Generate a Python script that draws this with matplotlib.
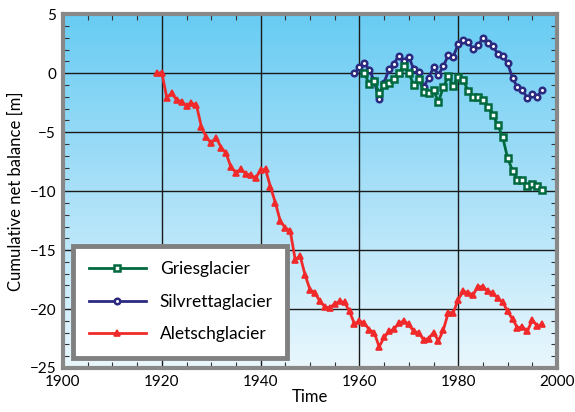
import numpy as np
import matplotlib
matplotlib.use("Agg")
import matplotlib.pyplot as plt
from matplotlib.colors import LinearSegmentedColormap
from matplotlib.ticker import MultipleLocator

plt.rcParams['font.family'] = ['Lato', 'DejaVu Sans']

# Cumulative net balance series [m]
aletsch_years = list(range(1919, 1998))
aletsch = [0.0, 0.05, -2.07, -1.7, -2.26, -2.4, -2.77, -2.54, -2.69, -4.52,
           -5.43, -5.93, -5.45, -6.3, -6.78, -7.97, -8.42, -8.14, -8.53, -8.65,
           -8.88, -8.22, -8.15, -9.65, -11.0, -12.57, -13.1, -13.4, -15.8, -15.5,
           -17.1, -18.36, -18.6, -19.35, -19.8, -19.9, -19.55, -19.35, -19.44, -20.2,
           -21.25, -21.0, -21.2, -21.75, -22.0, -23.2, -22.4, -21.9, -21.7, -21.2,
           -21.0, -21.3, -21.9, -22.0, -22.6, -22.5, -22.0, -22.7, -21.75, -20.3,
           -20.3, -19.2, -18.5, -18.6, -18.8, -18.1, -18.1, -18.5, -18.6, -19.1,
           -19.4, -20.2, -20.85, -21.6, -21.5, -21.9, -20.9, -21.45, -21.3]

silvretta_years = list(range(1959, 1998))
silvretta = [0.0, 0.5, 0.88, 0.3, -0.66, -2.2, -0.8, 0.35, 0.82, 1.5,
             1.07, 1.4, 0.34, 0.1, -1.16, -0.4, 0.5, -0.14, 0.6, 1.55,
             1.42, 2.47, 2.85, 2.68, 2.05, 2.4, 2.95, 2.6, 2.34, 1.64,
             1.47, 0.85, -0.42, -1.19, -1.41, -2.12, -1.75, -1.98, -1.41]

gries_years = list(range(1961, 1998))
gries = [0.0, -0.92, -0.7, -1.67, -1.0, -0.85, -0.5, 0.06, 0.6, 0.0,
         -1.0, -0.45, -1.55, -1.67, -1.44, -2.43, -1.16, -0.26, -1.06, -0.31,
         -0.57, -1.48, -1.98, -1.98, -2.29, -2.85, -3.53, -4.38, -5.4, -7.2,
         -8.25, -9.04, -9.04, -9.55, -9.38, -9.57, -9.89]

fig = plt.figure(figsize=(5.75, 4.12), dpi=100)
ax = fig.add_axes([0.1096, 0.1068, 0.8591, 0.8585])

xlim = (1900, 2000)
ylim = (-25, 5)

# Sky-blue vertical gradient behind the data
grad_cmap = LinearSegmentedColormap.from_list("sky", ["#eaf7fd", "#a9e0f8", "#68ccf3"])
grad = np.linspace(0, 1, 256).reshape(-1, 1)
ax.imshow(grad, cmap=grad_cmap, origin="lower", aspect="auto",
          extent=(xlim[0], xlim[1], ylim[0], ylim[1]), zorder=0)

ax.set_xlim(*xlim)
ax.set_ylim(*ylim)

ax.xaxis.set_major_locator(MultipleLocator(20))
ax.xaxis.set_minor_locator(MultipleLocator(5))
ax.yaxis.set_major_locator(MultipleLocator(5))
ax.yaxis.set_minor_locator(MultipleLocator(1))
ax.grid(True, which="major", color="#1a1a1a", lw=1.0, zorder=1)
ax.tick_params(which="both", direction="in", top=True, right=True,
               labelsize=11, color="#333333")
ax.tick_params(which="major", length=0, pad=5)
ax.tick_params(which="minor", length=4, width=0.8)

for sp in ax.spines.values():
    sp.set_color("#888888")
    sp.set_linewidth(3)

green = "#00693e"
navy = "#2b2a80"
red = "#f02a2a"

ax.plot(gries_years, gries, color=green, lw=2.0, marker="s", ms=4,
        mfc="white", mec=green, mew=1.8, zorder=4, label="Griesglacier")
ax.plot(silvretta_years, silvretta, color=navy, lw=2.0, marker="o", ms=4,
        mfc="white", mec=navy, mew=1.8, zorder=3, label="Silvrettaglacier")
ax.plot(aletsch_years, aletsch, color=red, lw=2.0, marker="^", ms=4,
        mfc=red, mec=red, mew=1.2, zorder=3, label="Aletschglacier")

ax.set_xlabel("Time", fontsize=12, labelpad=0)
ax.set_ylabel("Cumulative net balance [m]", fontsize=12, labelpad=4)

leg = ax.legend(loc="lower left", bbox_to_anchor=(0.02, 0.028, 0.433, 0.314),
                mode="expand", borderaxespad=0, fontsize=12.5, handlelength=3.3,
                handletextpad=0.8, labelspacing=0.95, borderpad=0.9,
                fancybox=False, framealpha=1, edgecolor="#808080")
leg.get_frame().set_linewidth(3.5)
leg.set_zorder(6)

fig.savefig("out.png", dpi=100)
